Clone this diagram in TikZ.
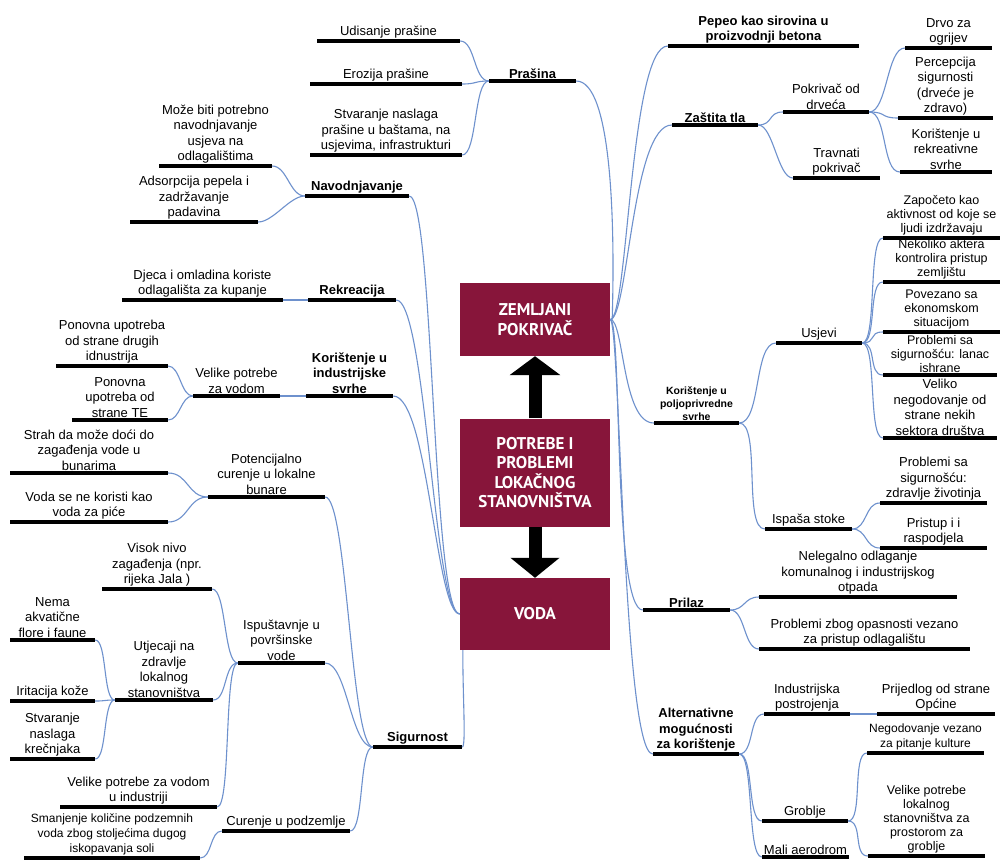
\documentclass[tikz,border=0pt]{standalone}
\usepackage{fontspec}
\setmainfont{Liberation Sans}
\newfontfamily\boxfont{PT Sans}
\usetikzlibrary{arrows.meta}
\definecolor{crimson}{RGB}{135,21,58}
\definecolor{connblue}{RGB}{110,145,205}
\tikzset{
 bar/.style={rectangle, fill=black, minimum height=3.6pt, inner sep=0pt, label distance=0.8pt},
 lb/.style={align=center, inner sep=0.5pt, font=\fontsize{13}{15.5}\selectfont},
 lbb/.style={lb, font=\fontsize{13}{15.5}\selectfont\bfseries},
 lbt/.style={lb, font=\fontsize{12.5}{14}\selectfont},
 lbs/.style={lb, font=\fontsize{12}{15}\selectfont},
 lbsb/.style={lb, font=\fontsize{10.5}{13}\selectfont\bfseries},
 conn/.style={draw=connblue, line width=1.1pt},
 box/.style={fill=crimson, text=white, minimum width=150pt, align=center, inner sep=2pt, font=\fontsize{17}{19.5}\boxfont\bfseries},
 bigarrow/.style={line width=13pt, draw=black},
}
\newcommand\lf[6][lb]{\node[bar, minimum width={#4-#3}, label={[#1]above:{#6}}] (#2) at ({(#3+#4)/2},#5) {};}
\newcommand\cR[3][15]{\draw[conn] (#2) .. controls +(#1,0) and +(-#1,0) .. (#3);}
\newcommand\cL[3][15]{\draw[conn] (#2) .. controls +(-#1,0) and +(#1,0) .. (#3);}
\begin{document}
\begin{tikzpicture}[x=1pt,y=-1pt]
\fill[white] (0,0) rectangle (1002,860);
\useasboundingbox (0,0) rectangle (1002,860);

% central boxes
\node[box, minimum height=73pt] (zem) at (535,319.5) {ZEMLJANI\\POKRIVAČ};
\node[box, minimum height=108pt] (potr) at (535,472.5) {POTREBE I\\PROBLEMI\\LOKAČNOG\\STANOVNIŠTVA};
\node[box, minimum height=72pt] (voda) at (535,614) {VODA};
\draw[bigarrow, -{Triangle[width=50pt,length=19pt]}] (potr.north) -- (zem.south);
\draw[bigarrow, -{Triangle[width=48pt,length=20pt]}] (potr.south) -- (voda.north);

% ---------- left side ----------
\lf{udis}{317}{460}{41}{Udisanje prašine}
\lf{eroz}{310}{462}{84}{Erozija prašine}
\lf{stvp}{310}{462}{155}{Stvaranje naslaga\\prašine u baštama, na\\usjevima, infrastrukturi}
\lf[lbb]{pras}{489}{576}{81}{Prašina}
\lf[lbb]{navod}{305}{409}{196}{Navodnjavanje}
\lf{moze}{159}{272}{166}{Može biti potrebno\\navodnjavanje\\usjeva na\\odlagalištima}
\lf{adso}{130}{258}{222}{Adsorpcija pepela i\\zadržavanje\\padavina}
\lf[lbb]{rekr}{308}{396}{300}{Rekreacija}
\lf{djeca}{122}{283}{300}{Djeca i omladina koriste\\odlagališta za kupanje}
\lf[lbb]{kori}{306}{393}{396}{Korištenje u\\industrijske\\svrhe}
\lf{velp}{193}{280}{396}{Velike potrebe\\za vodom}
\lf{pon1}{56}{168}{366}{Ponovna upotreba\\od strane drugih\\idnustrija}
\lf{pon2}{72}{168}{420}{Ponovna\\upotreba od\\strane TE}
\lf{pot}{208}{325}{497}{Potencijalno\\curenje u lokalne\\bunare}
\lf{strah}{10}{168}{473}{Strah da može doći do\\zagađenja vode u\\bunarima}
\lf{vodan}{10}{168}{522}{Voda se ne koristi kao\\voda za piće}
\lf[lbb]{sig}{373}{462}{747}{Sigurnost}
\lf{isp}{238}{325}{663}{Ispuštavnje u\\površinske\\vode}
\lf{visok}{102}{212}{589}{Visok nivo\\zagađenja (npr.\\rijeka Jala )}
\lf{utj}{115}{213}{700}{Utjecaji na\\zdravlje\\lokalnog\\stanovništva}
\lf{velind}{60}{217}{807}{Velike potrebe za vodom\\u industriji}
\lf{nema}{10}{95}{640}{Nema\\akvatične\\flore i faune}
\lf{irit}{10}{95}{701}{Iritacija kože}
\lf{krec}{10}{95}{759}{Stvaranje\\naslaga\\krečnjaka}
\lf{cur}{222}{350}{831}{Curenje u podzemlje}
\lf[lbs]{smanj}{24}{200}{858}{Smanjenje količine podzemnih\\voda zbog stoljećima dugog\\iskopavanja  soli}

% ---------- right side ----------
\lf[lbb]{pepeo}{668}{859}{46}{Pepeo kao sirovina u\\proizvodnji betona}
\lf[lbb]{zast}{672}{758}{125}{Zaštita tla}
\lf{pokr}{783}{869}{112}{Pokrivač od\\drveća}
\lf{trav}{793}{880}{178}{Travnati\\pokrivač}
\lf{drvo}{905}{992}{48}{Drvo za\\ogrijev}
\lf{perc}{898}{993}{118}{Percepcija\\sigurnosti\\(drveće je\\zdravo)}
\lf{korr}{900}{992}{172}{Korištenje u\\rekreativne\\svrhe}
\lf[lbsb]{kpol}{654}{739}{423}{Korištenje u\\poljoprivredne\\svrhe}
\lf{usj}{776}{862}{343}{Usjevi}
\lf[lbt]{zap}{883}{1000}{238}{Započeto kao\\aktivnost od koje se\\ljudi izdržavaju}
\lf[lbt]{nek}{883}{1000}{282}{Nekoliko aktera\\kontrolira pristup\\zemljištu}
\lf[lbt]{pov}{883}{1000}{332}{Povezano sa\\ekonomskom\\situacijom}
\lf[lbt]{prob}{883}{997}{375}{Problemi sa\\sigurnošću: lanac\\ishrane}
\lf{velik}{883}{997}{438}{Veliko\\negodovanje od\\strane nekih\\sektora društva}
\lf{ispa}{765}{852}{529}{Ispaša stoke}
\lf{probz}{880}{987}{503}{Problemi sa\\sigurnošću:\\zdravlje životinja}
\lf{pris}{880}{987}{548}{Pristup i i\\raspodjela}
\lf[lbb]{pril}{643}{730}{610}{Prilaz}
\lf{neleg}{759}{957}{597}{Nelegalno odlaganje\\komunalnog i industrijskog\\otpada}
\lf{probo}{759}{970}{649}{Problemi zbog opasnosti vezano\\za pristup odlagalištu}
\lf[lbb]{alt}{653}{739}{754}{Alternativne\\mogućnosti\\za korištenje}
\lf{ind}{764}{850}{714}{Industrijska\\postrojenja}
\lf{prij}{877}{995}{714}{Prijedlog od strane\\Općine}
\lf{grob}{762}{848}{821}{Groblje}
\lf{mali}{762}{849}{857}{Mali aerodrom}
\lf[lbs]{neg}{867}{984}{753}{Negodovanje vezano\\za pitanje kulture}
\lf[lbt]{velg}{868}{985}{856}{Velike potrebe\\lokalnog\\stanovništva za\\prostorom za\\groblje}

% ---------- connectors left ----------
\cL{pras.west}{udis.east}
\cL{pras.west}{eroz.east}
\cL{pras.west}{stvp.east}
\draw[conn] (pras.east) .. controls +(35,0) and +(3,-100) .. ([xshift=2pt]zem.east);
\cL{navod.west}{moze.east}
\cL{navod.west}{adso.east}
\draw[conn] (navod.east) .. controls +(25,0) and +(-28,0) .. (voda.west);
\draw[conn] (rekr.east) .. controls +(30,0) and +(-26,0) .. (voda.west);
\draw[conn] (kori.east) .. controls +(35,0) and +(-24,0) .. (voda.west);
\draw[conn] (rekr.west) -- (djeca.east);
\draw[conn] (kori.west) -- (velp.east);
\cL[12]{velp.west}{pon1.east}
\cL[12]{velp.west}{pon2.east}
\draw[conn] (sig.east) .. controls +(4,0) and +(0,50) .. ([xshift=3pt]voda.south west);
\cL[22]{sig.west}{pot.east}
\cL[22]{sig.west}{isp.east}
\cL[14]{sig.west}{cur.east}
\cL[20]{pot.west}{strah.east}
\cL[20]{pot.west}{vodan.east}
\cL[14]{isp.west}{visok.east}
\cL[14]{isp.west}{utj.east}
\cL[14]{isp.west}{velind.east}
\cL[12]{utj.west}{nema.east}
\cL[12]{utj.west}{irit.east}
\cL[12]{utj.west}{krec.east}
\cL[12]{cur.west}{smanj.east}

% ---------- connectors right ----------
\draw[conn] (zem.east) .. controls +(18,0) and +(-38,0) .. (pepeo.west);
\draw[conn] (zem.east) .. controls +(18,0) and +(-40,0) .. (zast.west);
\draw[conn] (zem.east) .. controls +(14,0) and +(-32,0) .. (kpol.west);
\draw[conn] (zem.east) .. controls +(12,0) and +(-30,0) .. (pril.west);
\draw[conn] (zem.east) .. controls +(10,0) and +(-30,0) .. (alt.west);
\cR{zast.east}{pokr.west}
\cR{zast.east}{trav.west}
\cR[18]{pokr.east}{drvo.west}
\cR[18]{pokr.east}{perc.west}
\cR[18]{pokr.east}{korr.west}
\cR[22]{kpol.east}{usj.west}
\cR[22]{kpol.east}{ispa.west}
\cR{usj.east}{zap.west}
\cR{usj.east}{nek.west}
\cR{usj.east}{pov.west}
\cR{usj.east}{prob.west}
\cR{usj.east}{velik.west}
\cR{ispa.east}{probz.west}
\cR{ispa.east}{pris.west}
\cR{pril.east}{neleg.west}
\cR{pril.east}{probo.west}
\cR{alt.east}{ind.west}
\cR{alt.east}{grob.west}
\cR{alt.east}{mali.west}
\draw[conn] (ind.east) -- (prij.west);
\cR{grob.east}{neg.west}
\cR{grob.east}{velg.west}
\end{tikzpicture}
\end{document}
